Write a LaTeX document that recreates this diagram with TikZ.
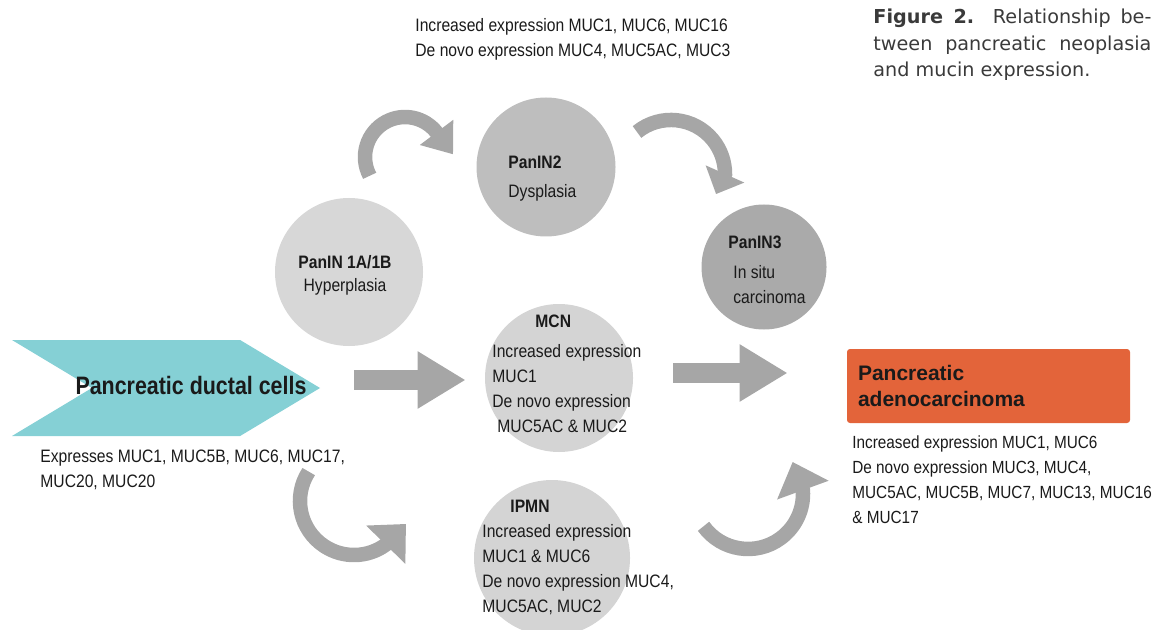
\documentclass[tikz,border=0pt]{standalone}
\usepackage{fontspec}
\setmainfont{Liberation Sans}[FakeStretch=0.87]
\newfontfamily\adenofont{Liberation Sans}
\newfontfamily\ductfont{Liberation Sans}[FakeStretch=0.85]
\newfontfamily\captionfont{DejaVu Sans}
\usetikzlibrary{shapes.symbols,arrows.meta}
\definecolor{ductteal}{HTML}{85D0D5}
\definecolor{adenored}{HTML}{E3643A}
\definecolor{arrowgray}{HTML}{A6A6A6}
\definecolor{panlight}{HTML}{D7D7D7}
\definecolor{panmid}{HTML}{BEBEBE}
\definecolor{pandark}{HTML}{AAAAAA}
\definecolor{cystgray}{HTML}{D4D4D4}
\definecolor{inkgray}{HTML}{1A1A1A}
\definecolor{capgray}{HTML}{3A3A3A}

\begin{document}
\begin{tikzpicture}[x=0.5pt,y=-0.5pt,
  every node/.style={inner sep=0pt, text=inkgray},
  txt/.style={anchor=north west, align=left, font=\fontsize{9}{12.5}\selectfont},
  blob/.style={circle, minimum size=#1},
  flow/.style={draw=arrowgray, line width=10pt, -{Triangle[length=24pt,width=27pt]}},
  curv/.style 2 args={draw=arrowgray, line width=7.25pt, -{Triangle[length=#1,width=#2]}}]
\useasboundingbox (0,0) rectangle (1154,630);

\node[blob=74pt, fill=panlight] (pan1) at (349,272) {};
\node[blob=69.5pt, fill=panmid] (pan2) at (546,167) {};
\node[blob=62.5pt, fill=pandark] (pan3) at (764,267) {};
\node[blob=74pt, fill=cystgray] (mcn) at (559,378) {};
\node[blob=78pt, fill=cystgray] (ipmn) at (552,558) {};
\node[signal, signal to=east, signal from=west, signal pointer angle=62, fill=ductteal, minimum width=154pt, minimum height=48pt] (duct) at (166,388) {};
\node[fill=adenored, rounded corners=1.5pt, minimum width=141.5pt, minimum height=37pt, text width=130.5pt, align=left, inner xsep=5.5pt, font=\adenofont\bfseries\fontsize{10.5}{13}\selectfont] (adeno) at (988.5,386) {Pancreatic\\adenocarcinoma};

\draw[flow, shorten <=16.5pt, shorten >=9.5pt] ([yshift=4pt]duct.east) -- ([yshift=-1pt]mcn.west);
\draw[flow, shorten <=20pt, shorten >=29.5pt] ([yshift=2.5pt]mcn.east) -- ([yshift=6.5pt]adeno.west);

\coordinate (tl) at (369.7,175.8);
\coordinate (tr) at (637,132);
\coordinate (bl) at (308.7,471.6);
\coordinate (br) at (703.5,526.3);
\draw[curv={13.75pt}{20pt}] (tl) arc[start angle=208, end angle=38, radius=20pt] -- ++(-53:13.75pt);
\draw[curv={11pt}{20.5pt}] (tr) arc[start angle=129, end angle=0, radius=27pt] -- ++(-114:11pt);
\draw[curv={14.5pt}{26.5pt}] (bl) arc[start angle=147, end angle=306, radius=27pt] -- ++(45.7:14.5pt);
\draw[curv={15pt}{26.5pt}] (br) arc[start angle=216, end angle=364, radius=27.5pt] -- ++(110:15pt);

\node[font=\ductfont\bfseries\fontsize{12.6}{15}\selectfont] (ductlbl) at (191,385) {Pancreatic ductal cells};
\node[txt] (ductnote) at (40,450) {Expresses MUC1, MUC5B, MUC6, MUC17,\\MUC20, MUC20};
\node[txt] (topnote) at (415,18) {Increased expression MUC1, MUC6, MUC16\\De novo expression MUC4, MUC5AC, MUC3};
\node[txt, anchor=north, align=center] (pan1lbl) at (345,255) {\textbf{PanIN 1A/1B}\\[-1pt]Hyperplasia};
\node[txt] (pan2lbl) at (508,156) {\textbf{PanIN2}\\[2pt]Dysplasia};
\node[txt] (pan3lbl) at (728,236) {\textbf{PanIN3}\\[2.5pt]\hspace*{2.5pt}In situ\\\hspace*{2.5pt}carcinoma};
\node[txt] (mcnlbl) at (492,315) {\hspace*{21.5pt}\textbf{MCN}\\[2.5pt]Increased expression\\MUC1\\De novo expression\\\hspace*{2.5pt}MUC5AC \& MUC2};
\node[txt] (ipmnlbl) at (482,500) {\hspace*{14pt}\textbf{IPMN}\\Increased expression\\MUC1 \& MUC6\\De novo expression MUC4,\\MUC5AC, MUC2};
\node[txt, font=\fontsize{8.8}{12.5}\selectfont] (adenonote) at (852,435) {Increased expression MUC1, MUC6\\De novo expression MUC3, MUC4,\\MUC5AC, MUC5B, MUC7, MUC13, MUC16\\\& MUC17};
\node[anchor=north west, align=left, text=capgray, font=\captionfont\fontsize{9.6}{13.25}\selectfont] (caption) at (873,9) {\makebox[139pt][s]{\textbf{Figure 2.} Relationship be-}\\\makebox[139pt][s]{tween pancreatic neoplasia}\\and mucin expression.};
\end{tikzpicture}
\end{document}
